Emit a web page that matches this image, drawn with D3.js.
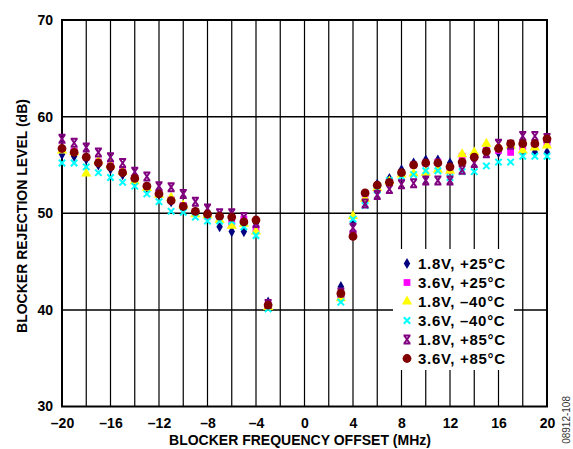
<!DOCTYPE html>
<html><head><meta charset="utf-8">
<script src="https://cdn.jsdelivr.net/npm/d3@7"></script>
<style>
body{margin:0;background:#fff;}
svg{display:block;font-family:"Liberation Sans",Arial,sans-serif;}
</style></head>
<body>
<svg id="c" width="573" height="449"></svg>
<script>
const xValues = [-20,-19,-18,-17,-16,-15,-14,-13,-12,-11,-10,-9,-8,-7,-6,-5,-4,-3,3,4,5,6,7,8,9,10,11,12,13,14,15,16,17,18,19,20];
const v18_25 = [56.1,55.9,55.6,55.0,54.6,54.0,53.4,52.7,52.0,51.2,50.6,50.0,49.8,48.6,48.1,48.1,49.0,40.8,42.4,49.0,51.2,53.0,53.6,54.5,55.2,55.5,55.5,55.2,55.7,55.9,56.5,56.3,56.6,56.3,56.3,56.3];
const v36_25 = [56.6,56.4,55.8,55.3,54.9,54.3,53.6,52.8,52.1,51.4,50.8,50.0,49.7,49.5,49.0,49.4,48.4,40.5,41.5,47.9,52.0,52.7,53.2,54.1,55.0,55.2,55.3,54.4,55.9,55.9,56.5,56.5,56.3,56.9,57.0,57.2];
const v18_m40 = [56.5,56.3,54.1,55.4,55.0,54.3,53.3,52.6,51.9,51.6,50.8,49.9,49.8,49.3,48.7,48.9,48.1,40.3,41.2,49.7,51.5,52.6,53.3,54.0,54.1,54.2,54.5,54.4,56.1,56.3,57.2,56.9,57.0,56.5,56.8,57.0];
const v36_m40 = [55.2,55.2,54.8,54.2,53.7,53.2,52.8,52.0,51.2,50.2,50.1,49.6,49.2,49.2,49.2,48.6,47.7,40.1,40.8,49.4,50.8,52.4,53.4,53.8,54.0,54.4,54.4,53.7,54.3,54.3,54.9,55.3,55.3,55.9,55.9,55.9];
const v18_85 = [57.7,57.3,56.8,56.3,55.8,55.2,54.3,53.8,52.8,52.7,52.0,51.2,50.5,50.0,50.0,49.6,49.0,40.6,41.8,48.5,51.0,51.9,52.5,53.0,53.1,53.4,53.4,53.4,54.5,55.2,56.2,57.2,57.1,58.0,58.0,57.8];
const v36_85 = [56.7,56.3,55.8,55.2,54.8,54.2,53.6,52.8,52.0,51.3,50.7,50.2,49.9,49.7,49.6,49.1,49.3,40.5,41.7,47.6,52.1,52.9,53.2,54.2,55.0,55.2,55.2,54.8,55.3,55.8,56.4,56.7,57.2,57.2,57.2,57.7];
const seriesNames = ["1.8V, +25°C","3.6V, +25°C","1.8V, –40°C","3.6V, –40°C","1.8V, +85°C","3.6V, +85°C"];
const xTicks = [-20,-16,-12,-8,-4,0,4,8,12,16,20];
const xTickLabels = ["–20","–16","–12","–8","–4","0","4","8","12","16","20"];
const yTicks = [30,40,50,60,70];
const xGrid = d3.range(-20,21,2);

const series = [
  {name:seriesNames[0], values:v18_25, color:"#000080", kind:"diamond"},
  {name:seriesNames[1], values:v36_25, color:"#FF00FF", kind:"square"},
  {name:seriesNames[2], values:v18_m40, color:"#FFFF00", kind:"triangle"},
  {name:seriesNames[3], values:v36_m40, color:"#00FFFF", kind:"x"},
  {name:seriesNames[4], values:v18_85, color:"#800080", kind:"hx"},
  {name:seriesNames[5], values:v36_85, color:"#800000", kind:"circle"}
];

const svg = d3.select("#c");
const L=62, R=547, T=20, B=406.5;
const x = d3.scaleLinear().domain([-20,20]).range([L,R]);
const y = d3.scaleLinear().domain([30,70]).range([B,T]);

// grid
svg.append("g").selectAll("line").data(xGrid).join("line")
  .attr("x1",d=>x(d)).attr("x2",d=>x(d)).attr("y1",T).attr("y2",B)
  .attr("stroke","#000").attr("stroke-width",1.2);
svg.append("g").selectAll("line").data([40,50,60]).join("line")
  .attr("x1",L).attr("x2",R).attr("y1",d=>y(d)).attr("y2",d=>y(d))
  .attr("stroke","#000").attr("stroke-width",1.5);
svg.append("rect").attr("x",L).attr("y",T).attr("width",R-L).attr("height",B-T)
  .attr("fill","none").attr("stroke","#000").attr("stroke-width",2);

// axes labels
const xAxis = d3.axisBottom(x).tickValues(xTicks).tickSize(0).tickPadding(12)
  .tickFormat((d,i)=>xTickLabels[i]);
const gx = svg.append("g").attr("transform",`translate(0,${B})`).call(xAxis);
gx.select(".domain").remove();
gx.selectAll("text").attr("font-size",14).attr("font-weight","bold").attr("fill","#000")
  .attr("font-family","Liberation Sans, Arial, sans-serif");
const yAxis = d3.axisLeft(y).tickValues(yTicks).tickSize(0).tickPadding(9);
const gy = svg.append("g").attr("transform",`translate(${L},0)`).call(yAxis);
gy.select(".domain").remove();
gy.selectAll("text").attr("font-size",14).attr("font-weight","bold").attr("fill","#000")
  .attr("font-family","Liberation Sans, Arial, sans-serif");

svg.append("text").attr("x",300).attr("y",445).attr("text-anchor","middle")
  .attr("font-size",14).attr("font-weight","bold").text("BLOCKER FREQUENCY OFFSET (MHz)");
svg.append("text").attr("transform","translate(27,216) rotate(-90)").attr("text-anchor","middle")
  .attr("font-size",14).attr("font-weight","bold").text("BLOCKER REJECTION LEVEL (dB)");
svg.append("text").attr("transform","translate(570,396) rotate(-90)").attr("text-anchor","end")
  .attr("font-size",10).attr("fill","#333").text("08912-108");

function drawMarker(g, kind, color){
  if(kind==="diamond") g.append("path").attr("d",d3.symbol(d3.symbolDiamond,36)()).attr("fill",color);
  else if(kind==="square") g.append("path").attr("d",d3.symbol(d3.symbolSquare,46)()).attr("fill",color);
  else if(kind==="triangle") g.append("path").attr("d",d3.symbol(d3.symbolTriangle,46)()).attr("fill",color);
  else if(kind==="circle") g.append("circle").attr("r",4.4).attr("fill",color);
  else if(kind==="x") g.append("path").attr("d","M-3.2,-3.2L3.2,3.2M3.2,-3.2L-3.2,3.2")
    .attr("stroke",color).attr("stroke-width",2).attr("fill","none");
  else if(kind==="hx") g.append("path").attr("d","M-3.5,-4L3.5,-4M-3.5,4L3.5,4M-2.8,-4L2.8,4M2.8,-4L-2.8,4")
    .attr("stroke",color).attr("stroke-width",2).attr("fill","none");
}

// points
series.forEach(s=>{
  const g = svg.append("g");
  s.values.forEach((v,i)=>{
    const p = g.append("g").attr("transform",`translate(${x(xValues[i])},${y(v)})`);
    drawMarker(p, s.kind, s.color);
  });
});

// legend
const lg = svg.append("g");
lg.append("rect").attr("x",393).attr("y",249).attr("width",121).attr("height",121).attr("fill","#fff");
series.forEach((s,i)=>{
  const yy = 263.5 + i*19;
  const p = lg.append("g").attr("transform",`translate(407,${yy})`);
  drawMarker(p, s.kind, s.color);
  lg.append("text").attr("x",418).attr("y",yy).attr("dy","0.36em").attr("font-size",15)
    .attr("letter-spacing",0.7).attr("font-weight","bold").text(s.name);
});
</script>
</body></html>
